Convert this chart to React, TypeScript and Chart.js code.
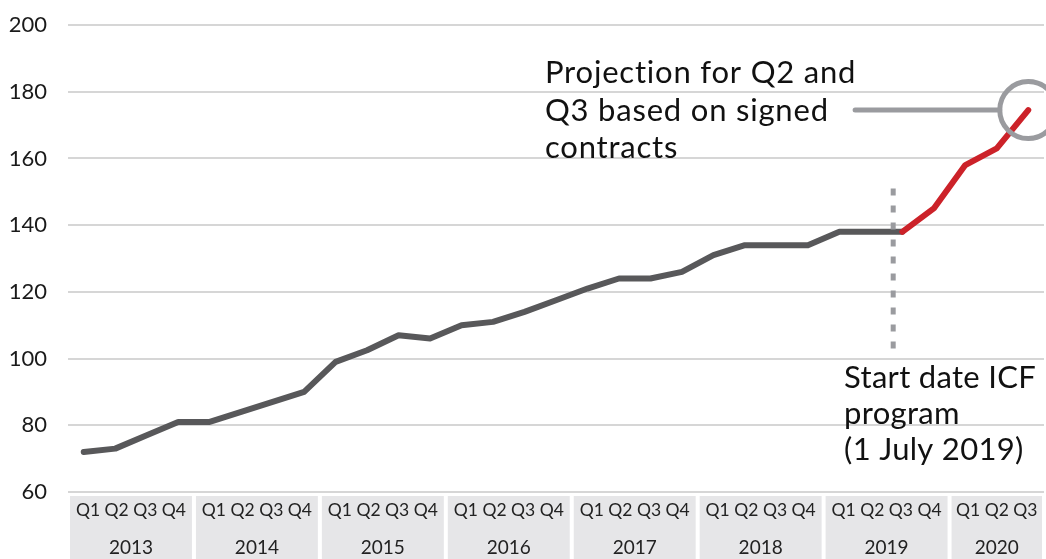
import React, { useEffect, useRef } from 'react';
import { Chart, registerables } from 'chart.js';

Chart.register(...registerables);

// ---- Data ----
const years = ['2013', '2014', '2015', '2016', '2017', '2018', '2019', '2020'];
const quartersPerYear = [4, 4, 4, 4, 4, 4, 4, 3];
const quarterNames = ['Q1', 'Q2', 'Q3', 'Q4'];
const values = [
  72, 73, 77, 81,
  81, 84, 87, 90,
  99, 102.5, 107, 106,
  110, 111, 114, 117.5,
  121, 124, 124, 126,
  131, 134, 134, 134,
  138, 138, 138, 145,
  158, 163, 174.5,
];
const projectionStartIndex = 26; // Q3 2019 onwards drawn in red
const programStartPosition = 25.71; // 1 July 2019 marker (fractional quarter index)
const yMin = 60;
const yMax = 200;
const yStep = 20;
const topNote = ['Projection for Q2 and', 'Q3 based on signed', 'contracts'];
const bottomNote = ['Start date ICF', 'program', '(1 July 2019)'];

const categories = years.flatMap((y, i) =>
  quarterNames.slice(0, quartersPerYear[i]).map((q) => `${q} ${y}`)
);

const FONT = 'Lato, "Open Sans", sans-serif';
const GRAY_LINE = '#58585a';
const RED_LINE = '#cc2229';
const ANNOT_GRAY = '#9a9b9f';

const annotationPlugin = {
  id: 'icfAnnotations',
  afterDatasetsDraw(chart: any) {
    const { ctx, scales } = chart;
    const x = scales.x;
    const y = scales.y;
    ctx.save();

    // dashed vertical marker
    const dx = x.getPixelForValue(programStartPosition);
    ctx.strokeStyle = ANNOT_GRAY;
    ctx.lineWidth = 5;
    ctx.setLineDash([7, 10]);
    ctx.beginPath();
    ctx.moveTo(dx, y.getPixelForValue(151));
    ctx.lineTo(dx, y.getPixelForValue(100.5));
    ctx.stroke();
    ctx.setLineDash([]);

    // circle around last point
    const li = values.length - 1;
    const cx = x.getPixelForValue(li);
    const cy = y.getPixelForValue(values[li]);
    const r = 28.5;
    ctx.beginPath();
    ctx.arc(cx, cy, r, 0, Math.PI * 2);
    ctx.stroke();

    // connector
    ctx.lineCap = 'round';
    ctx.lineWidth = 5;
    ctx.beginPath();
    ctx.moveTo(x.getPixelForValue(24.5), cy);
    ctx.lineTo(cx - r, cy);
    ctx.stroke();

    // texts
    ctx.fillStyle = '#111111';
    ctx.font = `31px ${FONT}`;
    ctx.textAlign = 'left';
    ctx.textBaseline = 'alphabetic';
    if ('letterSpacing' in ctx) (ctx as any).letterSpacing = '0.8px';
    const tx = x.getPixelForValue(14.65);
    const ty = y.getPixelForValue(182.6);
    topNote.forEach((line, i) => ctx.fillText(line, tx, ty + i * 37.5));

    if ('letterSpacing' in ctx) (ctx as any).letterSpacing = '0.3px';
    const bx = x.getPixelForValue(24.15);
    const by = y.getPixelForValue(91.2);
    bottomNote.forEach((line, i) => ctx.fillText(line, bx, by + i * 36));

    ctx.restore();
  },
  afterDraw(chart: any) {
    const { ctx, chartArea, scales } = chart;
    const x = scales.x;
    const boxTop = chartArea.bottom + 4;
    const boxBottom = chart.height;
    ctx.save();
    let start = 0;
    years.forEach((yr, i) => {
      const n = quartersPerYear[i];
      const left = x.getPixelForValue(start - 0.5) + 2;
      const right = Math.min(x.getPixelForValue(start + n - 0.5) - 2, chart.width);
      ctx.fillStyle = '#e6e6e8';
      ctx.fillRect(left, boxTop, right - left, boxBottom - boxTop);
      const cxm = (left + right) / 2;
      ctx.fillStyle = '#222222';
      ctx.textAlign = 'center';
      ctx.textBaseline = 'middle';
      ctx.font = `17.5px ${FONT}`;
      ctx.fillText(quarterNames.slice(0, n).join(' '), cxm, boxTop + 14);
      ctx.font = `19px ${FONT}`;
      ctx.fillText(yr, cxm, boxTop + 52);
      start += n;
    });
    ctx.restore();
  },
};

export default function App() {
  const canvasRef = useRef<HTMLCanvasElement | null>(null);

  useEffect(() => {
    const canvas = canvasRef.current;
    if (!canvas) return;
    const chart = new Chart(canvas, {
      type: 'line',
      data: {
        labels: categories,
        datasets: [
          {
            data: values,
            borderColor: GRAY_LINE,
            borderWidth: 6,
            borderCapStyle: 'round',
            borderJoinStyle: 'round',
            pointRadius: 0,
            tension: 0,
            fill: false,
            segment: {
              borderColor: (ctx: any) =>
                ctx.p0DataIndex >= projectionStartIndex ? RED_LINE : GRAY_LINE,
            },
          },
        ],
      },
      options: {
        responsive: false,
        animation: false,
        devicePixelRatio: 1,
        layout: { padding: { top: 25, right: 2, bottom: 67, left: 0 } },
        plugins: {
          legend: { display: false },
          tooltip: { enabled: false },
        },
        scales: {
          x: {
            type: 'category',
            offset: true,
            display: false,
          },
          y: {
            min: yMin,
            max: yMax,
            ticks: {
              stepSize: yStep,
              padding: 21,
              color: '#1a1a1a',
              font: { family: FONT, size: 22 },
            },
            grid: { color: '#d6d6d6', lineWidth: 2, drawTicks: false },
            border: { display: false },
            afterFit: (scale: any) => {
              scale.width = 68;
              scale.paddingTop = 12;
              scale.paddingBottom = 12;
            },
          },
        },
      },
      plugins: [annotationPlugin],
    });
    return () => chart.destroy();
  }, []);

  return (
    <div style={{ position: 'absolute', left: 0, top: 0, width: 1046, height: 559, background: '#ffffff' }}>
      <canvas ref={canvasRef} width={1046} height={559} style={{ display: 'block' }} />
    </div>
  );
}
